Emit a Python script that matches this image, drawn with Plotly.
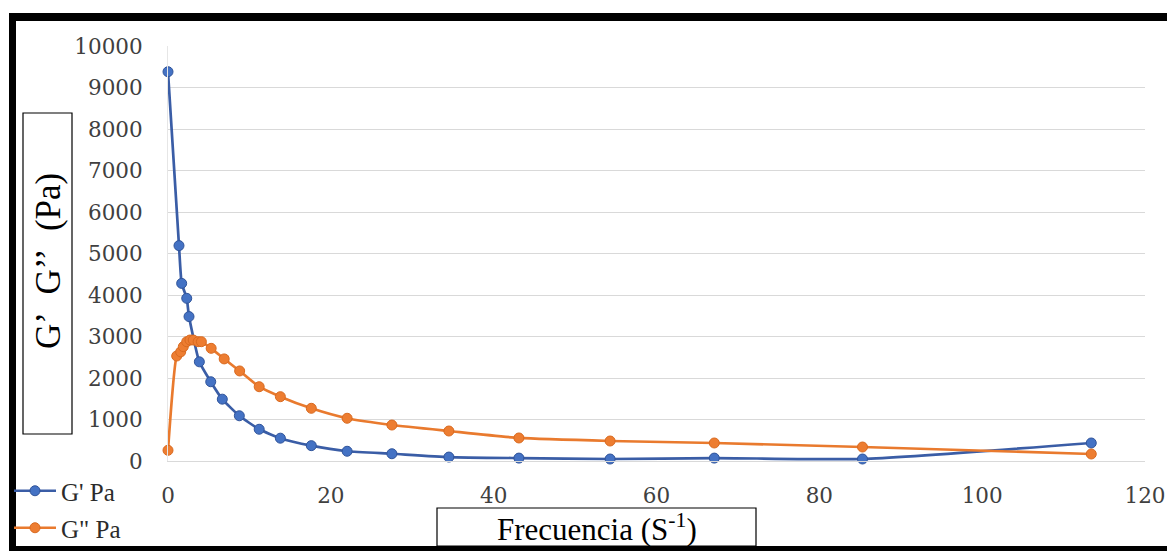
import plotly.graph_objects as go

# ---- data ----
freq_gp = [0, 1.35, 1.68, 2.3, 2.58, 3.85, 5.25, 6.67, 8.76, 11.2, 13.8, 17.6,
           22.0, 27.5, 34.5, 43.1, 54.3, 67.1, 85.3, 113.4]
g_prime = [9380, 5190, 4280, 3920, 3480, 2390, 1910, 1490, 1090, 765, 550, 370,
           235, 175, 95, 70, 48, 70, 48, 434]

freq_gpp = [0, 1.07, 1.56, 1.88, 2.3, 2.7, 3.1, 3.7, 4.1, 5.3, 6.9, 8.8, 11.2,
            13.8, 17.6, 22.0, 27.5, 34.5, 43.1, 54.3, 67.1, 85.3, 113.4]
g_dprime = [258, 2530, 2630, 2755, 2875, 2915, 2915, 2875, 2875, 2715, 2460,
            2170, 1790, 1550, 1270, 1030, 867, 723, 555, 482, 434, 337, 169]

x_ticks = [0, 20, 40, 60, 80, 100, 120]
y_ticks = [0, 1000, 2000, 3000, 4000, 5000, 6000, 7000, 8000, 9000, 10000]

name_gp = "G' Pa"
name_gpp = 'G" Pa'
x_title = "Frecuencia (S<sup>-1</sup>)"
y_title = "G’\u00a0 G’’\u00a0 (Pa)"

# ---- geometry (page pixels; the page body has an 8 px margin) ----
OFF = 8
W, H = 1175 - OFF, 551 - OFF
L, R, T, B = 168, 1145, 46, 461   # plot area in page pixels


def px(x):
    return (x - L) / (R - L)


def py(y):
    return (B - y) / (B - T)


fig = go.Figure()
fig.add_trace(go.Scatter(
    x=freq_gp, y=g_prime, name=name_gp, mode="lines+markers",
    line=dict(color="#3A5DA6", width=2.7, shape="spline", smoothing=0.5),
    marker=dict(color="#4472C4", size=10, line=dict(color="#30549A", width=1)),
    cliponaxis=False, legend="legend"))
fig.add_trace(go.Scatter(
    x=freq_gpp, y=g_dprime, name=name_gpp, mode="lines+markers",
    line=dict(color="#E97A2E", width=2.7, shape="spline", smoothing=0.5),
    marker=dict(color="#ED7D31", size=10, line=dict(color="#D96A20", width=1)),
    cliponaxis=False, legend="legend2"))

tick_font = dict(family="DejaVu Serif", size=21.5, color="#404040")
legend_font = dict(family="Liberation Serif", size=25, color="#2b2b2b")

shapes = []
# outer black frame
for (x0, y0, x1, y1) in [(9, 13, 16, 560), (9, 13, 1190, 21), (9, 546, 1190, 560)]:
    shapes.append(dict(type="rect", xref="paper", yref="paper",
                       x0=px(x0), x1=px(x1), y0=py(y0), y1=py(y1),
                       fillcolor="black", line=dict(width=0), layer="above"))
# y title box
shapes.append(dict(type="rect", xref="paper", yref="paper",
                   x0=px(23), x1=px(72), y0=py(113), y1=py(434),
                   fillcolor="white", line=dict(color="black", width=1.2)))
# x title box
shapes.append(dict(type="rect", xref="paper", yref="paper",
                   x0=px(437), x1=px(756), y0=py(508), y1=py(546),
                   fillcolor="white", line=dict(color="black", width=1.2)))

annotations = [
    dict(text=y_title, xref="paper", yref="paper", x=px(48), y=py(261),
         showarrow=False, textangle=-90, xanchor="center", yanchor="middle",
         font=dict(family="Liberation Serif", size=35, color="black")),
    dict(text=x_title, xref="paper", yref="paper", x=px(597), y=py(527),
         showarrow=False, xanchor="center", yanchor="middle",
         font=dict(family="Liberation Serif", size=31, color="black")),
]

fig.update_layout(
    width=W, height=H,
    margin=dict(l=L - OFF, r=(1175 - R), t=T - OFF, b=(551 - B), autoexpand=False),
    paper_bgcolor="white", plot_bgcolor="white",
    showlegend=True,
    legend=dict(x=px(9), y=py(468), xanchor="left", yanchor="top",
                font=legend_font, bgcolor="rgba(0,0,0,0)", itemwidth=42,
                tracegroupgap=0),
    legend2=dict(x=px(9), y=py(505), xanchor="left", yanchor="top",
                 font=legend_font, bgcolor="rgba(0,0,0,0)", itemwidth=42,
                 tracegroupgap=0),
    xaxis=dict(range=[0, 120], tickvals=x_ticks, ticktext=[str(v) for v in x_ticks],
               showgrid=False, zeroline=False, showline=True, linecolor="#D9D9D9",
               linewidth=1.3, ticks="", tickfont=tick_font, ticklabelstandoff=15),
    yaxis=dict(range=[0, 10000], tickvals=y_ticks, ticktext=[str(v) for v in y_ticks],
               showgrid=True, gridcolor="#D9D9D9", gridwidth=1.3, zeroline=False,
               showline=True, linecolor="#E6E6E6", linewidth=1, ticks="",
               tickfont=tick_font, ticklabelstandoff=20),
    shapes=shapes, annotations=annotations,
)

fig.write_html("out.html")
